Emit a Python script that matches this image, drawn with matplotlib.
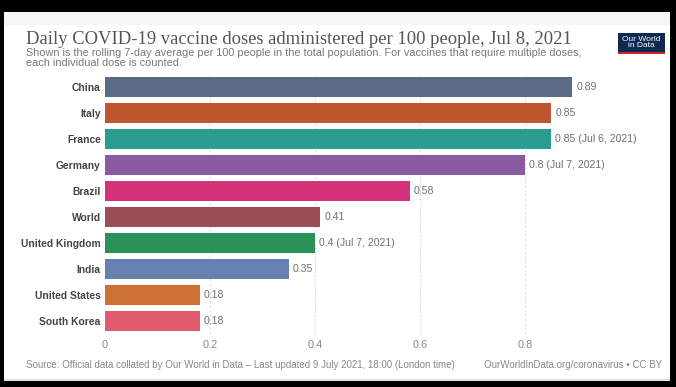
import matplotlib.pyplot as plt
from matplotlib.patches import Rectangle

# data
countries = ['China', 'Italy', 'France', 'Germany', 'Brazil', 'World',
             'United Kingdom', 'India', 'United States', 'South Korea']
doses = [0.89, 0.85, 0.85, 0.80, 0.58, 0.41, 0.40, 0.35, 0.18, 0.18]
value_labels = ['0.89', '0.85', '0.85 (Jul 6, 2021)', '0.8 (Jul 7, 2021)', '0.58',
                '0.41', '0.4 (Jul 7, 2021)', '0.35', '0.18', '0.18']
bar_colors = ['#5b6b85', '#c0562f', '#2a9d93', '#8a5aa3', '#d6307a',
              '#9a4f57', '#2a9158', '#6880b0', '#cc7034', '#e05a6e']
xticks = [0, 0.2, 0.4, 0.6, 0.8]

W, H = 676, 387
fig = plt.figure(figsize=(W / 100, H / 100), dpi=100)
fig.patch.set_facecolor('black')

def px(x, y):
    # pixel (from top-left) -> figure fraction
    return x / W, 1 - y / H

# white card inside the black frame
fig.patches.append(Rectangle((4 / W, 1 - 381 / H), 666 / W, 369 / H,
                             transform=fig.transFigure, facecolor='white',
                             edgecolor='none', zorder=-5))
fig.patches.append(Rectangle((4 / W, 1 - 25 / H), 666 / W, 13 / H,
                             transform=fig.transFigure, facecolor='#f6f6f6',
                             edgecolor='none', zorder=-5))
fig.patches.append(Rectangle((4 / W, 1 - 381 / H), 666 / W, 2 / H,
                             transform=fig.transFigure, facecolor='#e4e4e4',
                             edgecolor='none', zorder=-4))

# plot area: x=0 at px 105, 525 px per unit ; rows 74.5..333.5
ax = fig.add_axes([105 / W, 1 - 333.5 / H, 525 / W, 259 / H])
ax.set_zorder(5)
ax.set_facecolor('none')
y = list(range(len(countries)))
ax.barh(y, doses, height=0.77, color=bar_colors, zorder=2)
ax.set_xlim(0, 1.0)
ax.set_ylim(len(countries) - 0.5, -0.5)

for xt in xticks[1:]:
    ax.axvline(xt, color='#dddddd', lw=0.8, ls=(0, (2, 2)), zorder=1)

for yi, v, lab in zip(y, doses, value_labels):
    ax.annotate(lab, (v, yi), xytext=(3, 0), textcoords='offset points',
                va='center', ha='left', fontsize=7.6, color='#707070',
                family='Liberation Sans')

ax.set_yticks(y)
ax.set_yticklabels(countries, fontsize=7.4, fontweight='bold', color='#444444',
                   family='Liberation Sans')
ax.set_xticks(xticks)
ax.set_xticklabels(['0', '0.2', '0.4', '0.6', '0.8'], fontsize=7.9,
                   color='#888888', family='Liberation Sans')
ax.tick_params(axis='y', length=0, pad=3)
ax.tick_params(axis='x', length=0, pad=5)
for s in ax.spines.values():
    s.set_visible(False)

# titles
fig.text(*px(26, 44), 'Daily COVID-19 vaccine doses administered per 100 people, Jul 8, 2021',
         fontsize=13.4, family='Liberation Serif', color='#555555', va='baseline')
fig.text(*px(26, 53), 'Shown is the rolling 7-day average per 100 people in the total population. '
         'For vaccines that require multiple doses,',
         fontsize=7.8, family='Liberation Sans', color='#777777', va='center')
fig.text(*px(26, 62.5), 'each individual dose is counted.',
         fontsize=7.8, family='Liberation Sans', color='#777777', va='center')

# logo
fig.patches.append(Rectangle(px(618, 54), 47 / W, 21 / H, transform=fig.transFigure,
                             facecolor='#0f2a52', edgecolor='none'))
fig.patches.append(Rectangle(px(618, 54), 47 / W, 2.5 / H, transform=fig.transFigure,
                             facecolor='#ce261e', edgecolor='none'))
fig.text(*px(641.5, 42.5), 'Our World\nin Data', fontsize=6.0, color='white',
         family='Liberation Sans', ha='center', va='center', linespacing=0.95)

# footer
fig.text(*px(26, 365.5), 'Source: Official data collated by Our World in Data – '
         'Last updated 9 July 2021, 18:00 (London time)',
         fontsize=7.0, family='Liberation Sans', color='#888888', va='center')
fig.text(*px(662, 365.5), 'OurWorldInData.org/coronavirus • CC BY',
         fontsize=7.0, family='Liberation Sans', color='#888888', va='center', ha='right')

fig.savefig('out.png', dpi=100, facecolor=fig.get_facecolor())
